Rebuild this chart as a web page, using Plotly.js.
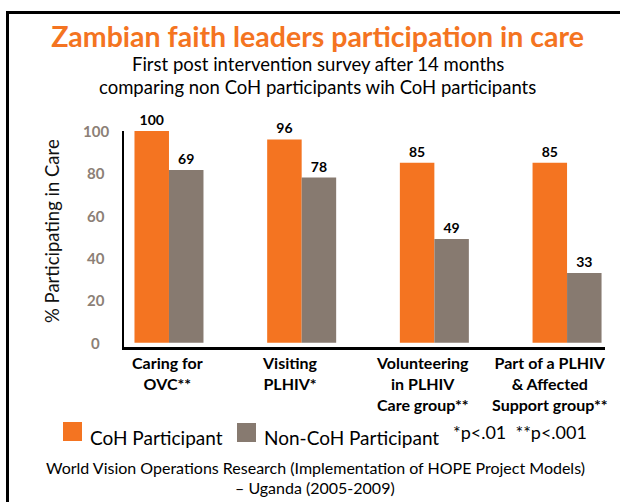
<!DOCTYPE html>
<html>
<head>
<meta charset="utf-8">
<script src="https://cdn.plot.ly/plotly-3.0.1.min.js"></script>
<style>
  html, body { margin: 0; padding: 0; background: #fff; overflow: hidden; }
  #wrap { position: relative; width: 620px; height: 502px; }
  #chart { width: 620px; height: 502px; }
  #frame { position: absolute; left: 6px; top: 11px; width: 700px; height: 700px;
           border: 3px solid #000; pointer-events: none; }
</style>
</head>
<body>
<div id="wrap">
  <div id="chart"></div>
  <div id="frame"></div>
</div>
<script>
// ---- data ----
const categories = [
  "Caring for<br>OVC**",
  "Visiting<br>PLHIV*",
  "Volunteering<br>in PLHIV<br>Care group**",
  "Part of a PLHIV<br>& Affected<br>Support group**"
];
const cohValues = [100, 96, 85, 85];
const nonCohValues = [81.6, 78, 49, 33];
const cohLabels = ["100", "96", "85", "85"];
const nonCohLabels = ["69", "78", "49", "33"];
const yTicks = [0, 20, 40, 60, 80, 100];
const seriesNames = ["CoH Participant", "Non-CoH Participant"];
const sigNote = "*p<.01  **p<.001";
const titleText = "Zambian faith leaders participation in care";
const subtitleLines = ["First post intervention survey after 14 months",
                       "comparing non CoH participants wih CoH participants"];
const yTitle = "% Participating in Care";
const footerLines = ["World Vision Operations Research (Implementation of HOPE Project Models)",
                     "– Uganda (2005-2009)"];

// ---- styling ----
const ORANGE = "#F47421";
const GREY = "#877A70";
const TICKGREY = "#8C7F76";
const FONT = "Lato, 'Open Sans', sans-serif";
const W = 620, H = 502;
const L = 124, R = 605, T = 131, B = 347;
const fx = x => (x - L) / (R - L);
const fy = y => (B - y) / (B - T);

const traces = [
  {
    type: "bar", name: seriesNames[0], x: categories, y: cohValues,
    text: cohLabels, textposition: "outside", cliponaxis: false, constraintext: "none",
    textfont: { family: FONT, size: 14, color: "#000", weight: "bold" },
    marker: { color: ORANGE }, showlegend: false, hoverinfo: "skip"
  },
  {
    type: "bar", name: seriesNames[1], x: categories, y: nonCohValues,
    text: nonCohLabels, textposition: "outside", cliponaxis: false, constraintext: "none",
    textfont: { family: FONT, size: 14, color: "#000", weight: "bold" },
    marker: { color: GREY }, showlegend: false, hoverinfo: "skip"
  }
];

const annotations = [];
// y tick labels (centered like the original)
yTicks.forEach(v => {
  annotations.push({
    xref: "paper", yref: "y", x: fx(95.5), y: v, xanchor: "center", yanchor: "middle",
    text: String(v), showarrow: false,
    font: { family: FONT, size: 15, color: TICKGREY, weight: "bold" }
  });
});
// y axis title
annotations.push({
  xref: "paper", yref: "paper", x: fx(52), y: fy(231), xanchor: "center", yanchor: "middle",
  text: yTitle, textangle: -90, showarrow: false,
  font: { family: FONT, size: 18.5, color: "#111" }
});
// category labels
const catShift = [-1.5, -12, -12, -17.5];
categories.forEach((c, i) => {
  annotations.push({
    xref: "x", yref: "paper", x: i, y: fy(351), xshift: catShift[i],
    xanchor: "center", yanchor: "top", align: "center", text: c, showarrow: false,
    font: { family: FONT, size: 16, color: "#000", weight: "bold" }
  });
});
// subtitle
subtitleLines.forEach((line, j) => {
  annotations.push({
    xref: "paper", yref: "paper", x: fx(317.5), y: fy(64.5 + j * 22.5),
    xanchor: "center", yanchor: "middle", text: line, showarrow: false,
    font: { family: FONT, size: 18.5, color: "#000" }
  });
});
// legend
annotations.push({
  xref: "paper", yref: "paper", x: fx(88), y: fy(437), xanchor: "left", yanchor: "middle",
  text: seriesNames[0], showarrow: false, font: { family: FONT, size: 19, color: "#000" }
});
annotations.push({
  xref: "paper", yref: "paper", x: fx(262), y: fy(437), xanchor: "left", yanchor: "middle",
  text: seriesNames[1], showarrow: false, font: { family: FONT, size: 19, color: "#000" }
});
annotations.push({
  xref: "paper", yref: "paper", x: fx(451), y: fy(432), xanchor: "left", yanchor: "middle",
  text: sigNote, showarrow: false, font: { family: FONT, size: 18, color: "#000" }
});
// footer
footerLines.forEach((line, j) => {
  annotations.push({
    xref: "paper", yref: "paper", x: fx(315), y: fy(467 + j * 20.5),
    xanchor: "center", yanchor: "middle", text: line, showarrow: false,
    font: { family: FONT, size: 16, color: "#000" }
  });
});

const shapes = [
  { type: "rect", xref: "paper", yref: "paper", x0: fx(63), x1: fx(82), y0: fy(441), y1: fy(422),
    fillcolor: ORANGE, line: { width: 0 } },
  { type: "rect", xref: "paper", yref: "paper", x0: fx(237), x1: fx(256), y0: fy(442), y1: fy(423),
    fillcolor: GREY, line: { width: 0 } }
];

const layout = {
  width: W, height: H,
  margin: { l: L, r: W - R, t: T, b: H - B, pad: 0 },
  paper_bgcolor: "#fff", plot_bgcolor: "#fff",
  barmode: "group", bargap: 0.48, bargroupgap: 0,
  title: {
    text: titleText, xref: "container", yref: "container",
    x: 317.5 / W, xanchor: "center", y: 1 - 37 / H, yanchor: "middle",
    font: { family: FONT, size: 28.5, color: ORANGE, weight: "bold" }
  },
  xaxis: {
    type: "category", range: [-0.339, 3.286], showticklabels: false, ticks: "",
    showgrid: false, zeroline: false, showline: true, linecolor: "#000", linewidth: 3,
    fixedrange: true
  },
  yaxis: {
    range: [-2, 100], showticklabels: false, ticks: "", tickvals: yTicks,
    showgrid: false, zeroline: false, showline: true, linecolor: "#000", linewidth: 2.5,
    automargin: false, fixedrange: true
  },
  annotations: annotations,
  shapes: shapes,
  showlegend: false
};

Plotly.newPlot("chart", traces, layout, { staticPlot: true, displayModeBar: false });
</script>
</body>
</html>
